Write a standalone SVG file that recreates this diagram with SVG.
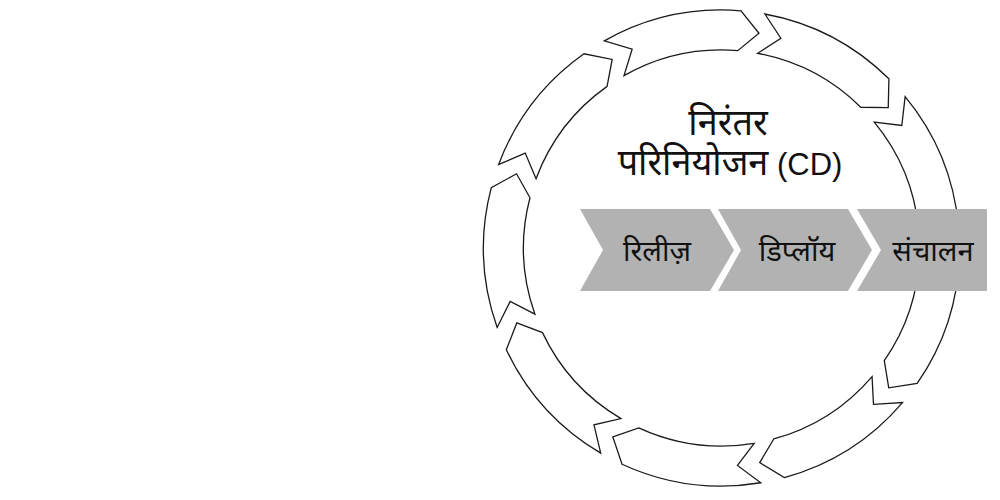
<svg xmlns="http://www.w3.org/2000/svg" width="1000" height="500" viewBox="0 0 1000 500">
<style>
.seg{fill:#ffffff;stroke:#1a1a1a;stroke-width:1.3;stroke-linejoin:miter}
.chev{fill:#b2b2b2;stroke:none}
.lbl{font-family:"Liberation Sans","Noto Sans Devanagari","Noto Sans",sans-serif;fill:#111111;text-anchor:middle}
.title{font-size:36px}
.latin{font-size:31px}
.step{font-size:29px}
</style>
<rect width="1000" height="500" fill="#ffffff"/>
<g id="connectors">
<path class="seg" d="M604.30,40.85 A238,238 0 0 1 741.00,10.80 L758.98,33.25 L737.72,50.67 A198,198 0 0 0 624.00,75.67 L632.13,49.16 Z"/>
<path class="seg" d="M764.87,13.99 A238,238 0 0 1 888.91,78.83 L888.25,107.58 L860.77,107.26 A198,198 0 0 0 757.58,53.32 L780.86,38.24 Z"/>
<path class="seg" d="M905.15,96.61 A238,238 0 0 1 958.48,226.02 L939.50,247.62 L918.65,229.71 A198,198 0 0 0 874.28,122.06 L901.80,125.47 Z"/>
<path class="seg" d="M959.49,250.08 A238,238 0 0 1 917.17,383.49 L888.74,387.84 L884.28,360.72 A198,198 0 0 0 919.49,249.73 L938.38,270.03 Z"/>
<path class="seg" d="M902.48,402.57 A238,238 0 0 1 784.30,477.57 L759.73,462.62 L773.75,438.98 A198,198 0 0 0 872.06,376.59 L873.48,404.29 Z"/>
<path class="seg" d="M760.78,482.74 A238,238 0 0 1 622.05,464.23 L612.83,436.98 L638.76,427.88 A198,198 0 0 0 754.18,443.29 L737.47,465.41 Z"/>
<path class="seg" d="M600.71,453.07 A238,238 0 0 1 506.33,349.71 L516.78,322.92 L542.49,332.62 A198,198 0 0 0 621.01,418.60 L593.98,424.81 Z"/>
<path class="seg" d="M497.15,327.45 A238,238 0 0 1 491.29,187.61 L516.52,173.80 L529.98,197.76 A198,198 0 0 0 534.86,314.09 L510.16,301.48 Z"/>
<path class="seg" d="M498.57,164.65 A238,238 0 0 1 583.97,53.76 L612.17,59.40 L607.08,86.40 A198,198 0 0 0 536.04,178.66 L525.23,153.12 Z"/>
</g>
<g id="title">
<text class="lbl title" x="728" y="135">निरंतर</text>
<text class="lbl title" x="730" y="175">परिनियोजन<tspan class="latin"> (CD)</tspan></text>
</g>
<g id="step-release">
<polygon class="chev" points="580,209 710,209 734,250 710,291 580,291 603,250"/>
<text class="lbl step" x="657" y="261">रिलीज़</text>
</g>
<g id="step-deploy">
<polygon class="chev" points="718,209 848,209 872,250 848,291 718,291 741,250"/>
<text class="lbl step" x="797" y="261">डिप्लॉय</text>
</g>
<g id="step-operate">
<polygon class="chev" points="857,209 987,209 987,291 857,291 881,250"/>
<text class="lbl step" x="933" y="261">संचालन</text>
</g>
</svg>
